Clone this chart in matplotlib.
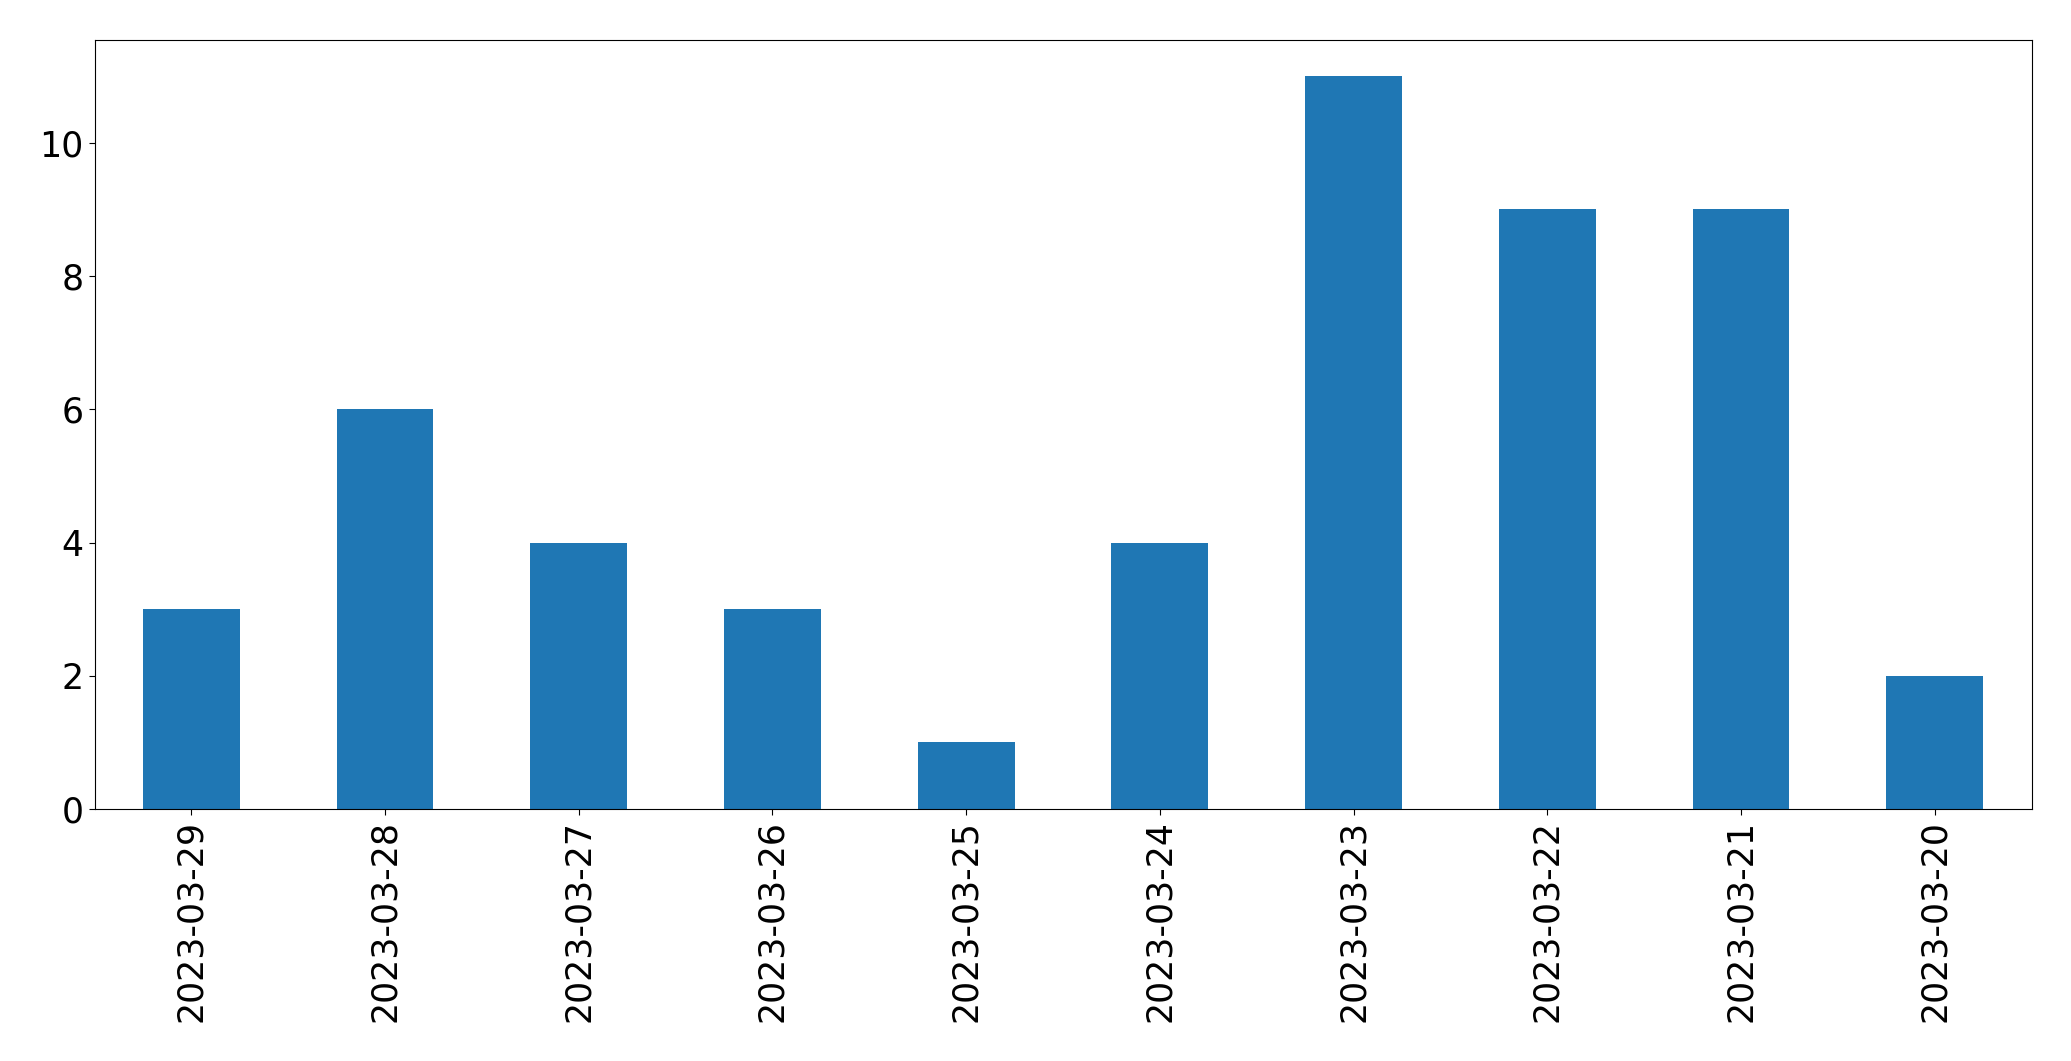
import matplotlib
matplotlib.use('Agg')
import matplotlib.pyplot as plt
import numpy as np

dates = ['2023-03-29', '2023-03-28', '2023-03-27', '2023-03-26', '2023-03-25',
         '2023-03-24', '2023-03-23', '2023-03-22', '2023-03-21', '2023-03-20']
counts = [3, 6, 4, 3, 1, 4, 11, 9, 9, 2]

fs = 25
fig = plt.figure(figsize=(20.71, 10.61), dpi=100)
ax = fig.add_axes([94.5 / 2071, 1 - 809 / 1061, (2031.5 - 94.5) / 2071, (809 - 39.5) / 1061])

x = np.arange(len(dates))
ax.bar(x, counts, width=0.5, color='#1f77b4')
ax.set_xlim(-0.5, len(dates) - 0.5)
ax.set_ylim(0, max(counts) * 1.05)
ax.set_xticks(x)
ax.set_xticklabels(dates, rotation=90, fontsize=fs)
ax.tick_params(axis='y', labelsize=fs)
ax.tick_params(length=4.2)

fig.savefig('out.png', dpi=100)
